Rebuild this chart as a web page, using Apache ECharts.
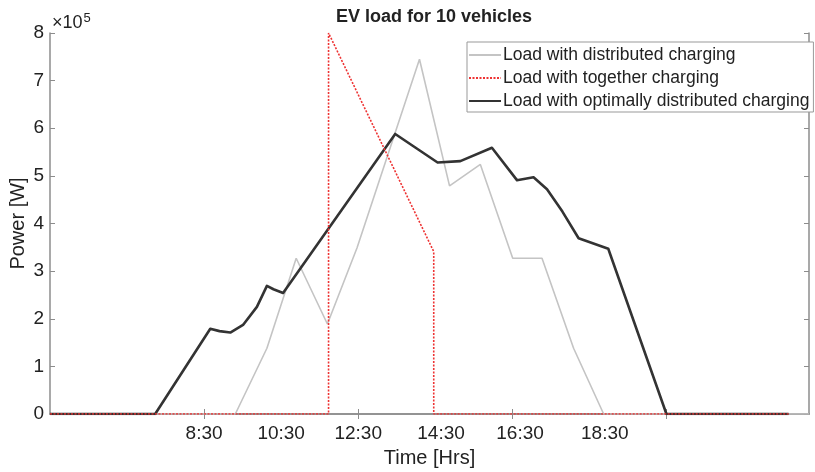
<!DOCTYPE html>
<html>
<head>
<meta charset="utf-8">
<script src="https://cdn.jsdelivr.net/npm/echarts@6/dist/echarts.min.js"></script>
<style>
html,body{margin:0;padding:0;background:#fff;}
#chart{width:815px;height:472px;}
</style>
</head>
<body>
<div id="chart"></div>
<script>
// ---- data (hours of day, power in units of 1e5 W) ----
const distHours  = [4.5, 9.31, 10.13, 10.89, 11.70, 12.47, 14.09, 14.87, 15.67, 16.51, 17.27, 18.09, 18.87, 24.2];
const distPower  = [0,   0,    1.38,  3.27,  1.89,  3.49,  7.45,  4.79,  5.24,  3.27,  3.27,  1.38,  0,     0];

const togHours   = [4.5, 11.73, 11.73, 14.46, 14.46, 23.67];
const togPower   = [0,   0,     8.0,   3.41,  0,     0];

const optHours   = [4.5, 7.23, 8.66, 8.90, 9.18, 9.51, 9.87, 10.13, 10.30, 10.55, 13.46, 14.56, 15.15, 15.97, 16.62, 17.05, 17.40, 17.80, 18.22, 18.99, 20.50, 23.67];
const optPower   = [0,   0,    1.79, 1.74, 1.71, 1.87, 2.25, 2.69,  2.62,  2.54,  5.88,  5.28,  5.31,  5.59,  4.91,  4.97,  4.72,  4.25,  3.69,  3.47,  0,     0];

const seriesNames = ['Load with distributed charging', 'Load with together charging', 'Load with optimally distributed charging'];
const tickHours   = [8.5, 12.5, 16.5, 20.5];
const labelHours  = [8.5, 10.5, 12.5, 14.65, 16.7, 18.9];
const labelTexts  = ['8:30', '10:30', '12:30', '14:30', '16:30', '18:30'];
const yTicks      = [0, 1, 2, 3, 4, 5, 6, 7, 8];

const pairs = (xs, ys) => xs.map((x, i) => [x, ys[i]]);
const FONT = "'Liberation Sans', Arial, sans-serif";
const AX = '#8c8c8c';
const TXT = '#222';

const chart = echarts.init(document.getElementById('chart'), null, {renderer: 'canvas'});
chart.setOption({
  animation: false,
  backgroundColor: '#fff',
  textStyle: {fontFamily: FONT},
  title: {
    text: 'EV load for 10 vehicles',
    left: 429, top: 3, textAlign: 'center',
    textStyle: {fontFamily: FONT, fontSize: 18, fontWeight: 'bold', color: TXT}
  },
  grid: {left: 50, right: 6, top: 33, bottom: 58, containLabel: false, outerBoundsMode: 'none'},
  legend: {
    orient: 'vertical',
    left: 467, top: 42,
    data: seriesNames,
    backgroundColor: '#fff',
    borderColor: '#999', borderWidth: 1, borderRadius: 0,
    padding: [3, 4, 1, 1],
    itemWidth: 32, itemHeight: 14, itemGap: 3,
    itemStyle: {opacity: 0},
    textStyle: {fontFamily: FONT, fontSize: 17.5, color: TXT, lineHeight: 20, padding: [0,0,0,-3]}
  },
  xAxis: [{
    type: 'value', position: 'bottom',
    min: 4.5, max: 24.2,
    name: 'Time [Hrs]', nameLocation: 'middle', nameGap: 34, nameMoveOverlap: false,
    nameTextStyle: {fontFamily: FONT, fontSize: 20, color: TXT},
    axisLine: {show: true, lineStyle: {color: AX, width: 1.5}},
    axisTick: {show: true, inside: true, length: 5, customValues: tickHours, lineStyle: {color: AX}},
    axisLabel: {
      customValues: labelHours, margin: 10,
      fontFamily: FONT, fontSize: 19, color: TXT,
      formatter: v => { const i = labelHours.findIndex(h => Math.abs(h - v) < 1e-6); return i >= 0 ? labelTexts[i] : ''; }
    },
    splitLine: {show: false}
  }, {
    type: 'value', position: 'top',
    min: 4.5, max: 24.2,
    axisLine: {show: true, lineStyle: {color: AX, width: 1.5}},
    axisTick: {show: true, inside: true, length: 5, customValues: tickHours, lineStyle: {color: AX}},
    axisLabel: {show: false},
    splitLine: {show: false}
  }],
  yAxis: [{
    type: 'value', position: 'left',
    min: 0, max: 8, interval: 1,
    name: 'Power [W]', nameLocation: 'middle', nameGap: 22, nameRotate: 90, nameMoveOverlap: false,
    nameTextStyle: {fontFamily: FONT, fontSize: 20, color: TXT},
    axisLine: {show: true, lineStyle: {color: AX, width: 1.5}},
    axisTick: {show: true, inside: true, length: 5, customValues: yTicks, lineStyle: {color: AX}},
    axisLabel: {margin: 6, fontFamily: FONT, fontSize: 19, color: TXT},
    splitLine: {show: false}
  }, {
    type: 'value', position: 'right',
    min: 0, max: 8, interval: 1,
    axisLine: {show: true, lineStyle: {color: AX, width: 1.5}},
    axisTick: {show: true, inside: true, length: 5, customValues: yTicks, lineStyle: {color: AX}},
    axisLabel: {show: false},
    splitLine: {show: false}
  }],
  graphic: [{
    type: 'text', left: 52, top: 12, silent: true,
    style: {
      text: '×10{s|5}',
      font: "18px 'Liberation Sans', Arial, sans-serif",
      fill: TXT,
      rich: {s: {fontSize: 13, fontFamily: FONT, fill: TXT, verticalAlign: 'top', padding: [0,0,10,1]}}
    }
  }],
  series: [{
    name: seriesNames[0], type: 'line', xAxisIndex: 0, yAxisIndex: 0,
    data: pairs(distHours, distPower), showSymbol: false, symbol: 'none',
    lineStyle: {color: '#c4c4c4', width: 1.6}, itemStyle: {color: '#c4c4c4'}, z: 2
  }, {
    name: seriesNames[2], type: 'line', xAxisIndex: 0, yAxisIndex: 0,
    data: pairs(optHours, optPower), showSymbol: false, symbol: 'none',
    lineStyle: {color: '#333', width: 2.6, join: 'round'}, itemStyle: {color: '#333'}, z: 3
  }, {
    name: seriesNames[1], type: 'line', xAxisIndex: 0, yAxisIndex: 0,
    data: pairs(togHours, togPower), showSymbol: false, symbol: 'none',
    lineStyle: {color: '#ee3333', width: 1.6, type: [2, 1.5]}, itemStyle: {color: '#ee3333'}, z: 4
  }]
});
</script>
</body>
</html>
